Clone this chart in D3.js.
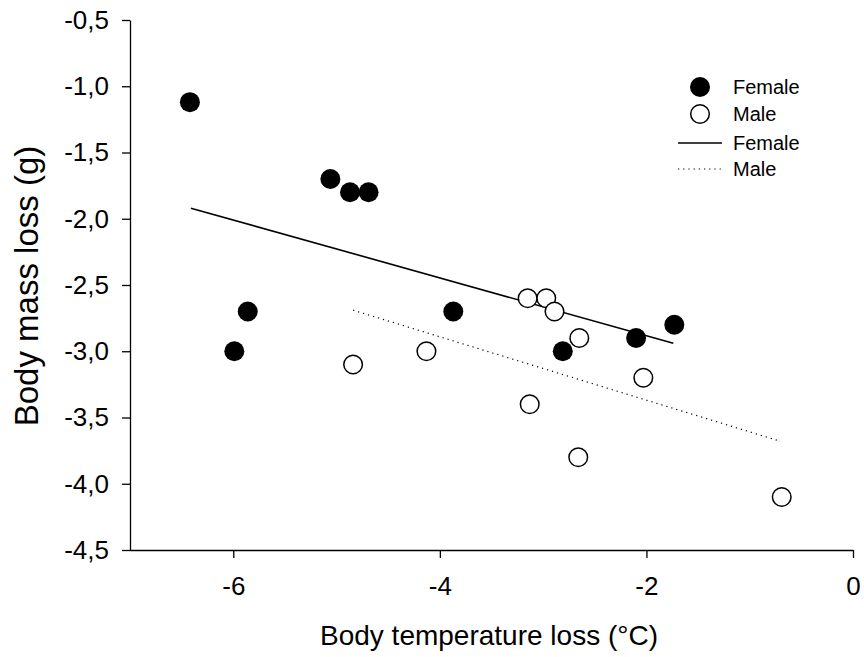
<!DOCTYPE html>
<html><head><meta charset="utf-8">
<script src="https://cdn.jsdelivr.net/npm/d3@7"></script>
<style>body{margin:0;background:#fff}svg{display:block}text{font-family:"Liberation Sans",Arial,sans-serif}</style>
</head><body>
<svg id="c" width="864" height="657"></svg>
<script>
const femaleX = [-6.42, -5.06, -4.87, -4.69, -5.86, -5.99, -3.87, -2.81, -2.10, -1.73];
const femaleY = [-1.12, -1.7, -1.8, -1.8, -2.7, -3.0, -2.7, -3.0, -2.9, -2.8];
const maleX = [-4.84, -4.13, -3.15, -2.97, -2.89, -2.65, -3.13, -2.66, -2.03, -0.69];
const maleY = [-3.1, -3.0, -2.6, -2.6, -2.7, -2.9, -3.4, -3.8, -3.2, -4.1];
const femaleLineX = [-6.41, -1.74];
const femaleLineY = [-1.92, -2.94];
const maleLineX = [-4.84, -0.70];
const maleLineY = [-2.69, -3.68];
const xTicks = [-6, -4, -2, 0];
const yTicks = [-0.5, -1.0, -1.5, -2.0, -2.5, -3.0, -3.5, -4.0, -4.5];

const svg = d3.select("#c");
const L = 130, R = 853, T = 20, B = 550;
const x = d3.scaleLinear().domain([-7, 0]).range([L, R]);
const y = d3.scaleLinear().domain([-4.5, -0.5]).range([B, T]);
const fmt = d => d3.format(".1f")(d).replace(".", ",").replace("−","-");

const xa = svg.append("g").attr("transform", `translate(0,${B})`)
  .call(d3.axisBottom(x).tickValues(xTicks).tickSize(8).tickSizeOuter(0).tickFormat(d => String(d)));
const ya = svg.append("g").attr("transform", `translate(${L},0)`)
  .call(d3.axisLeft(y).tickValues(yTicks).tickSize(8).tickSizeOuter(0).tickFormat(fmt));
[xa, ya].forEach(a => {
  a.selectAll("path,line").attr("stroke", "#000").attr("stroke-width", 1.3);
  a.selectAll("text").attr("font-size", 26).attr("fill", "#000").attr("font-family", "Liberation Sans, Arial, sans-serif");
});
xa.selectAll("text").attr("y", 27);
ya.selectAll("text").attr("x", -21);
xa.select("path.domain").attr("d", `M${L},0.5H${R}`);

const line = d3.line().x(d => x(d[0])).y(d => y(d[1]));
svg.append("path").datum(femaleLineX.map((v, i) => [v, femaleLineY[i]]))
  .attr("d", line).attr("stroke", "#000").attr("stroke-width", 1.6).attr("fill", "none");
svg.append("path").datum(maleLineX.map((v, i) => [v, maleLineY[i]]))
  .attr("d", line).attr("stroke", "#000").attr("stroke-width", 1.2).attr("stroke-dasharray", "1.2,4").attr("fill", "none");

svg.append("g").selectAll("circle").data(femaleX.map((v, i) => [v, femaleY[i]])).join("circle")
  .attr("cx", d => x(d[0])).attr("cy", d => y(d[1])).attr("r", 10).attr("fill", "#000");
svg.append("g").selectAll("circle").data(maleX.map((v, i) => [v, maleY[i]])).join("circle")
  .attr("cx", d => x(d[0])).attr("cy", d => y(d[1])).attr("r", 9.3).attr("fill", "#fff").attr("stroke", "#000").attr("stroke-width", 1.5);

// legend
const lg = svg.append("g");
lg.append("circle").attr("cx", 700).attr("cy", 87).attr("r", 10).attr("fill", "#000");
lg.append("circle").attr("cx", 700).attr("cy", 114).attr("r", 9.3).attr("fill", "#fff").attr("stroke", "#000").attr("stroke-width", 1.5);
lg.append("line").attr("x1", 678).attr("x2", 722).attr("y1", 143).attr("y2", 143).attr("stroke", "#000").attr("stroke-width", 1.4);
lg.append("line").attr("x1", 678).attr("x2", 722).attr("y1", 169).attr("y2", 169).attr("stroke", "#000").attr("stroke-width", 1.2).attr("stroke-dasharray", "1.2,4");
[["Female", 87], ["Male", 114], ["Female", 143], ["Male", 169]].forEach(([t, yy]) =>
  lg.append("text").attr("x", 733).attr("y", yy).attr("dy", "0.35em").attr("font-size", 20).text(t));

svg.append("text").attr("x", 489).attr("y", 645).attr("text-anchor", "middle").attr("font-size", 28).text("Body temperature loss (°C)");
svg.append("text").attr("transform", `translate(38,${286}) rotate(-90)`).attr("text-anchor", "middle").attr("font-size", 33).text("Body mass loss (g)");
</script>
</body></html>
